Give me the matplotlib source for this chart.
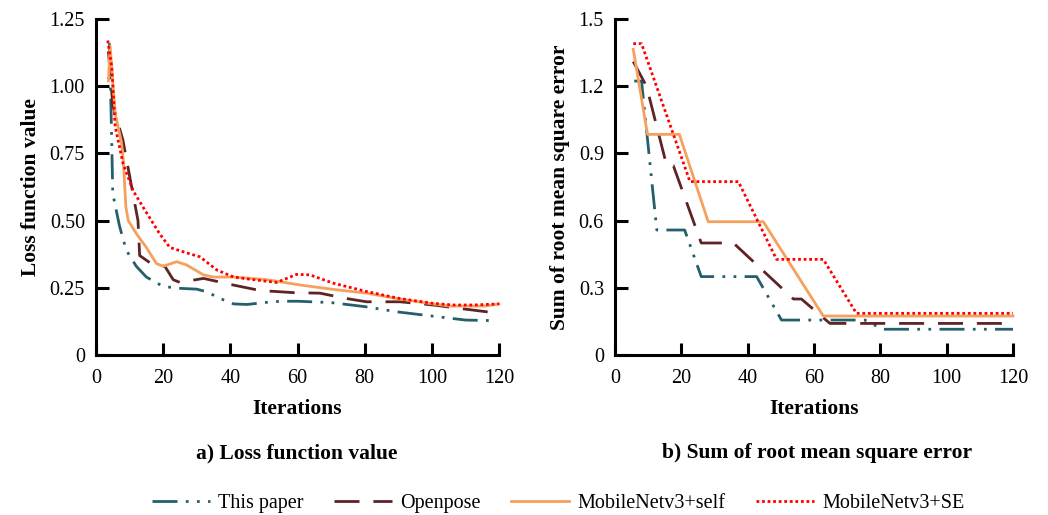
"""
Curvas de entrenamiento: valor de la función de pérdida y suma del RMSE
frente a las iteraciones, para los cuatro modelos comparados.
"""

import matplotlib
matplotlib.use("Agg")

import matplotlib.pyplot as plt

plt.rcParams["font.family"] = ["Liberation Serif", "DejaVu Serif"]

# --- a) Loss function value ---
loss_this_x = [4, 4.5, 5, 7, 9, 12, 15, 20, 25, 30, 33, 37, 41, 45, 50, 55, 60, 70, 80, 90, 100, 110, 118]
loss_this_y = [1.16, 0.9, 0.6, 0.48, 0.39, 0.33, 0.29, 0.255, 0.248, 0.245, 0.235, 0.21, 0.19, 0.188,
               0.195, 0.2, 0.2, 0.195, 0.18, 0.16, 0.145, 0.13, 0.128]

loss_open_x = [3.7, 5, 8, 9.5, 11, 12.5, 13, 17, 20.5, 23, 25, 32, 41, 48.8, 58.8, 66.7, 74.6, 80.6,
               90.5, 100.4, 110.4, 120]
loss_open_y = [1.13, 0.93, 0.8, 0.7, 0.6, 0.5, 0.37, 0.335, 0.33, 0.28, 0.27, 0.285, 0.26, 0.24,
               0.232, 0.23, 0.21, 0.198, 0.198, 0.186, 0.17, 0.155]

loss_self_x = [3.7, 4.2, 5.7, 7.6, 8.1, 8.9, 9.6, 12.1, 15, 18, 20, 24, 27, 32, 35, 41, 51, 61, 70.7,
               80.6, 90.5, 100.4, 105.4, 110.4, 116, 120]
loss_self_y = [1.02, 1.15, 0.9, 0.79, 0.73, 0.55, 0.5, 0.45, 0.4, 0.34, 0.33, 0.347, 0.335, 0.298,
               0.29, 0.29, 0.28, 0.26, 0.244, 0.23, 0.208, 0.19, 0.182, 0.182, 0.182, 0.19]

loss_se_x = [3.5, 4.7, 5.7, 8.1, 11.1, 15, 19, 22, 27, 31, 36, 41, 47, 53.8, 56.8, 59.7, 63.7, 70.7,
             80.6, 90.5, 100.4, 106.4, 112.4, 120]
loss_se_y = [1.17, 1.07, 0.85, 0.71, 0.61, 0.53, 0.45, 0.4, 0.38, 0.365, 0.316, 0.29, 0.28, 0.27,
             0.285, 0.3, 0.298, 0.267, 0.236, 0.21, 0.192, 0.186, 0.186, 0.19]

# --- b) Sum of root mean square error ---
rmse_this_x = [5.8, 8, 12.6, 21, 26, 42.7, 50.2, 75.3, 80.8, 120]
rmse_this_y = [1.223, 1.223, 0.558, 0.558, 0.35, 0.35, 0.156, 0.156, 0.115, 0.115]

rmse_open_x = [5.5, 9.5, 15.6, 17.6, 26, 35.7, 53.8, 56.2, 64.8, 120]
rmse_open_y = [1.31, 1.2, 0.845, 0.845, 0.5, 0.5, 0.25, 0.25, 0.141, 0.141]

rmse_self_x = [5.5, 9.8, 19.4, 28.1, 44.7, 62.8, 120]
rmse_self_y = [1.365, 0.985, 0.985, 0.595, 0.595, 0.174, 0.174]

rmse_se_x = [5.5, 8, 22.6, 37.2, 48.7, 62.8, 72.8, 120]
rmse_se_y = [1.39, 1.39, 0.774, 0.774, 0.427, 0.427, 0.186, 0.186]

nombres = ["This paper", "Openpose", "MobileNetv3+self", "MobileNetv3+SE"]
x_ticks = [0, 20, 40, 60, 80, 100, 120]
loss_ticks = [0, 0.25, 0.5, 0.75, 1.0, 1.25]
loss_labels = ["0", "0.25", "0.50", "0.75", "1.00", "1.25"]
rmse_ticks = [0, 0.3, 0.6, 0.9, 1.2, 1.5]
rmse_labels = ["0", "0.3", "0.6", "0.9", "1.2", "1.5"]

ESTILOS = [
    dict(color="#245f6c", lw=2.0, dashes=(9, 3, 1, 3, 1, 3)),
    dict(color="#5e2325", lw=2.0, dashes=(9, 5)),
    dict(color="#f5a05c", lw=2.0, linestyle="-"),
    dict(color="#ff0000", lw=2.0, dashes=(1, 1)),
]


def formatear_ejes(ax, ymax, yticks, ylabels, ylabel):
    """Ejes con solo spines izquierdo/inferior y ticks hacia dentro."""
    ax.set_xlim(0, 120)
    ax.set_ylim(0, ymax)
    ax.set_xticks(x_ticks)
    ax.set_yticks(yticks)
    ax.set_yticklabels(ylabels)
    for lado in ("top", "right"):
        ax.spines[lado].set_visible(False)
    for lado in ("left", "bottom"):
        ax.spines[lado].set_linewidth(2.2)
    ax.tick_params(direction="in", length=9, width=2.2, labelsize=14.5, colors="black")
    ax.tick_params(axis="x", pad=10)
    ax.tick_params(axis="y", pad=8)
    ax.set_xlabel("Iterations", fontsize=15.5, fontweight="bold", labelpad=8)
    ax.set_ylabel(ylabel, fontsize=15.5, fontweight="bold", labelpad=6)


fig = plt.figure(figsize=(10.48, 5.15), dpi=100)
ax1 = fig.add_axes([96 / 1048, 160 / 515, 403 / 1048, 336 / 515])
ax2 = fig.add_axes([615 / 1048, 160 / 515, 398 / 1048, 336 / 515])

series_loss = [(loss_this_x, loss_this_y), (loss_open_x, loss_open_y),
               (loss_self_x, loss_self_y), (loss_se_x, loss_se_y)]
series_rmse = [(rmse_this_x, rmse_this_y), (rmse_open_x, rmse_open_y),
               (rmse_self_x, rmse_self_y), (rmse_se_x, rmse_se_y)]

lineas = []
for (x, y), nombre, estilo in zip(series_loss, nombres, ESTILOS):
    (ln,) = ax1.plot(x, y, label=nombre, clip_on=False, **estilo)
    lineas.append(ln)
for (x, y), estilo in zip(series_rmse, ESTILOS):
    ax2.plot(x, y, clip_on=False, **estilo)

formatear_ejes(ax1, 1.25, loss_ticks, loss_labels, "Loss function value")
formatear_ejes(ax2, 1.5, rmse_ticks, rmse_labels, "Sum of root mean square error")

fig.text(297 / 1048, 1 - 453 / 515, "a) Loss function value", ha="center", va="center",
         fontsize=15.5, fontweight="bold")
fig.text(817 / 1048, 1 - 453 / 515, "b) Sum of root mean square error", ha="center", va="center",
         fontsize=15.5, fontweight="bold")

fig.legend(lineas, nombres, loc="center", bbox_to_anchor=(558 / 1048, 1 - 503 / 515), ncol=4,
           frameon=False, fontsize=14.5, handlelength=2.9, columnspacing=1.5, handletextpad=0.4)

fig.savefig("out.png", dpi=100)
